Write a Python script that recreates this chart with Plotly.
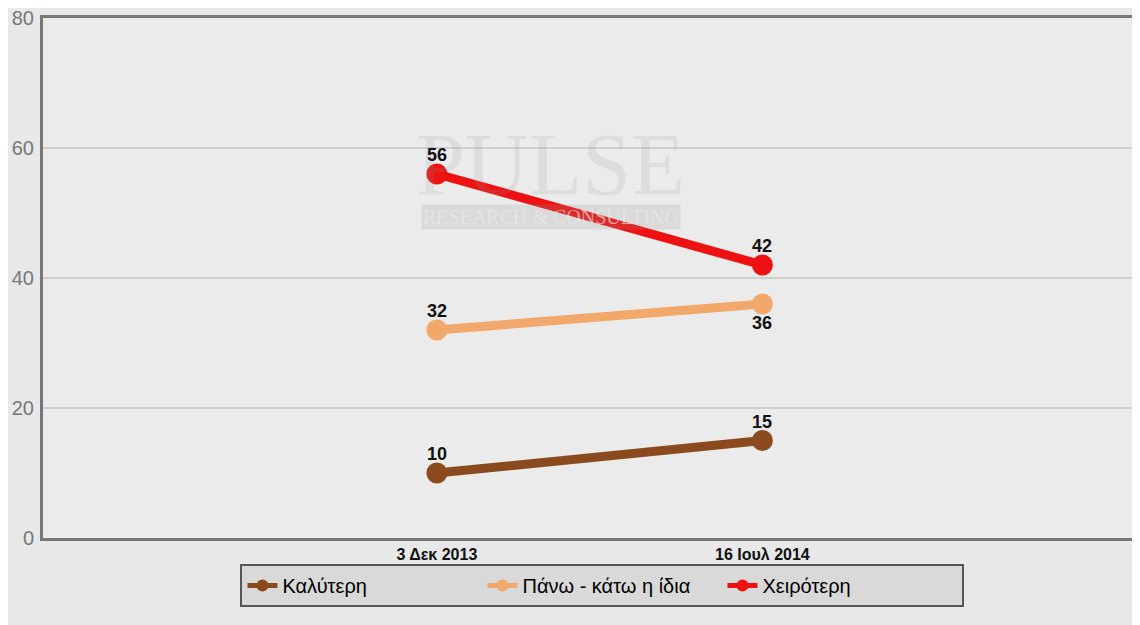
import plotly.graph_objects as go

dates = ["3 Δεκ 2013", "16 Ιουλ 2014"]
kalyteri = [10, 15]
idia = [32, 36]
xeiroteri = [56, 42]

series = [
    ("Καλύτερη", kalyteri, "#8b4a1e", [1, 1]),
    ("Πάνω - κάτω η ίδια", idia, "#f2a86a", [1, -1]),
    ("Χειρότερη", xeiroteri, "#ee1111", [1, 1]),
]

fig = go.Figure()

# faint watermark
fig.add_annotation(
    x=0.35, y=57.5, xref="x", yref="y", text="PULSE", showarrow=False,
    font=dict(family="Liberation Serif", size=88, color="rgba(150,150,150,0.16)"),
)
fig.add_annotation(
    x=0.35, y=49.4, xref="x", yref="y", text="RESEARCH &amp; CONSULTING",
    showarrow=False, bgcolor="rgba(150,150,150,0.2)",
    font=dict(family="Liberation Serif", size=20, color="rgba(235,235,235,0.6)"),
)

for name, vals, col, side in series:
    fig.add_trace(
        go.Scatter(
            x=[0, 1],
            y=vals,
            name=name,
            mode="lines+markers",
            line=dict(color=col, width=9),
            marker=dict(color=col, size=21),
            cliponaxis=False,
        )
    )
    for i, v in enumerate(vals):
        fig.add_annotation(
            x=i, y=v, xref="x", yref="y", text=str(v), showarrow=False,
            yshift=19 * side[i],
            font=dict(family="Arial", size=18, color="#111", weight="bold"),
        )

fig.update_layout(
    width=1132,
    height=617,
    margin=dict(l=35, r=0, t=10, b=87),
    paper_bgcolor="#e8e8e8",
    plot_bgcolor="#ebebeb",
    showlegend=True,
    legend=dict(
        orientation="h",
        x=0.18,
        xanchor="left",
        y=-0.05,
        yanchor="top",
        bgcolor="#d9d9d9",
        bordercolor="#555",
        borderwidth=2,
        entrywidth=195,
        entrywidthmode="pixels",
        font=dict(family="Arial", size=20, color="#000"),
        itemsizing="constant",
    ),
    xaxis=dict(
        range=[-1.21, 2.16],
        tickmode="array",
        tickvals=[0, 1],
        ticktext=dates,
        showgrid=False,
        zeroline=False,
        showline=True,
        linecolor="#777",
        linewidth=3,
        mirror=True,
        tickfont=dict(family="Arial", size=16, color="#111", weight="bold"),
        ticks="",
    ),
    yaxis=dict(
        range=[0, 80],
        tickvals=[0, 20, 40, 60, 80],
        showgrid=True,
        gridcolor="#cfcfcf",
        gridwidth=2,
        zeroline=False,
        showline=True,
        linecolor="#777",
        linewidth=3,
        tickfont=dict(family="Arial", size=20, color="#777"),
        ticks="",
        ticklabelstandoff=2,
        ticklabeloverflow="allow",
    ),
)

fig.write_html("out.html")
